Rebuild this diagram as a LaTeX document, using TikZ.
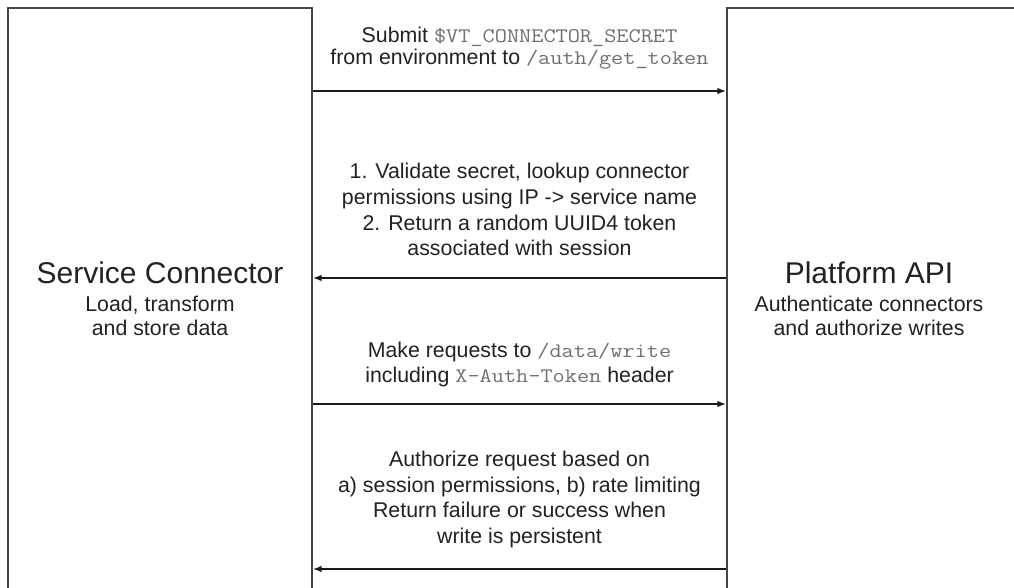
\documentclass[tikz,border=0pt]{standalone}
\usepackage{fontspec}
\setmainfont{Liberation Sans}
\newfontfamily\courlike[FakeStretch=1.143]{Latin Modern Mono}
\usetikzlibrary{arrows.meta}
\definecolor{boxline}{HTML}{444444}
\definecolor{arrowline}{HTML}{1A1A1A}
\definecolor{txt}{HTML}{222222}
\definecolor{codegray}{HTML}{707070}
\newcommand\vtcode[1]{{\color{codegray}\courlike\fontsize{15.5}{16}\selectfont #1}}
\begin{document}
\begin{tikzpicture}[x=0.75pt,y=-0.75pt,
  box/.style={draw=boxline,line width=1.3pt,rectangle,inner sep=0pt},
  title/.style={font=\fontsize{22.5}{27}\selectfont,text=txt,inner sep=0pt,anchor=base},
  sub/.style={font=\fontsize{16}{18.2}\selectfont,text=txt,align=center,inner sep=0pt},
  msg/.style={font=\fontsize{16}{19.3}\selectfont,text=txt,align=center,inner sep=0pt},
  arr/.style={draw=arrowline,line width=1.1pt,-{Latex[length=6.5pt,width=4.8pt]}}]
\useasboundingbox (0,0) rectangle (1014,587);
\fill[white] (0,0) rectangle (1014,587);
% participant boxes (continue past the lower/right edges)
\node[box,minimum width=304*0.75pt,minimum height=642*0.75pt] (L) at (160,329) {};
\node[box,minimum width=323*0.75pt,minimum height=642*0.75pt] (R) at (888.5,329) {};
% box labels
\node[title] (Lt) at (160,283) {Service Connector};
\node[sub] (Ls) at (160,316) {Load, transform\\and store data};
\node[title] (Rt) at (869,283) {Platform API};
\node[sub] (Rs) at (869,316) {Authenticate connectors\\and authorize writes};
% message labels
\node[msg,font=\fontsize{16}{16.7}\selectfont] (m1) at (519.5,48)
  {Submit \vtcode{\$VT\_CONNECTOR\_SECRET}\\from environment to \vtcode{/auth/get\_token}};
\node[msg] (m2) at (519.5,209.7)
  {1. Validate secret, lookup connector\\permissions using IP -> service name\\2. Return a random UUID4 token\\associated with session};
\node[msg] (m3) at (519.5,364.5)
  {Make requests to \vtcode{/data/write}\\including \vtcode{X-Auth-Token} header};
\node[msg] (m4) at (519.5,499.5)
  {Authorize request based on\\a) session permissions, b) rate limiting\\Return failure or success when\\write is persistent};
% message arrows
\coordinate (y1) at (0,91);
\coordinate (y2) at (0,278);
\coordinate (y3) at (0,404);
\coordinate (y4) at (0,569);
\draw[arr] (L.east |- y1) -- (R.west |- y1);
\draw[arr] (R.west |- y2) -- (L.east |- y2);
\draw[arr] (L.east |- y3) -- (R.west |- y3);
\draw[arr] (R.west |- y4) -- (L.east |- y4);
\end{tikzpicture}
\end{document}
